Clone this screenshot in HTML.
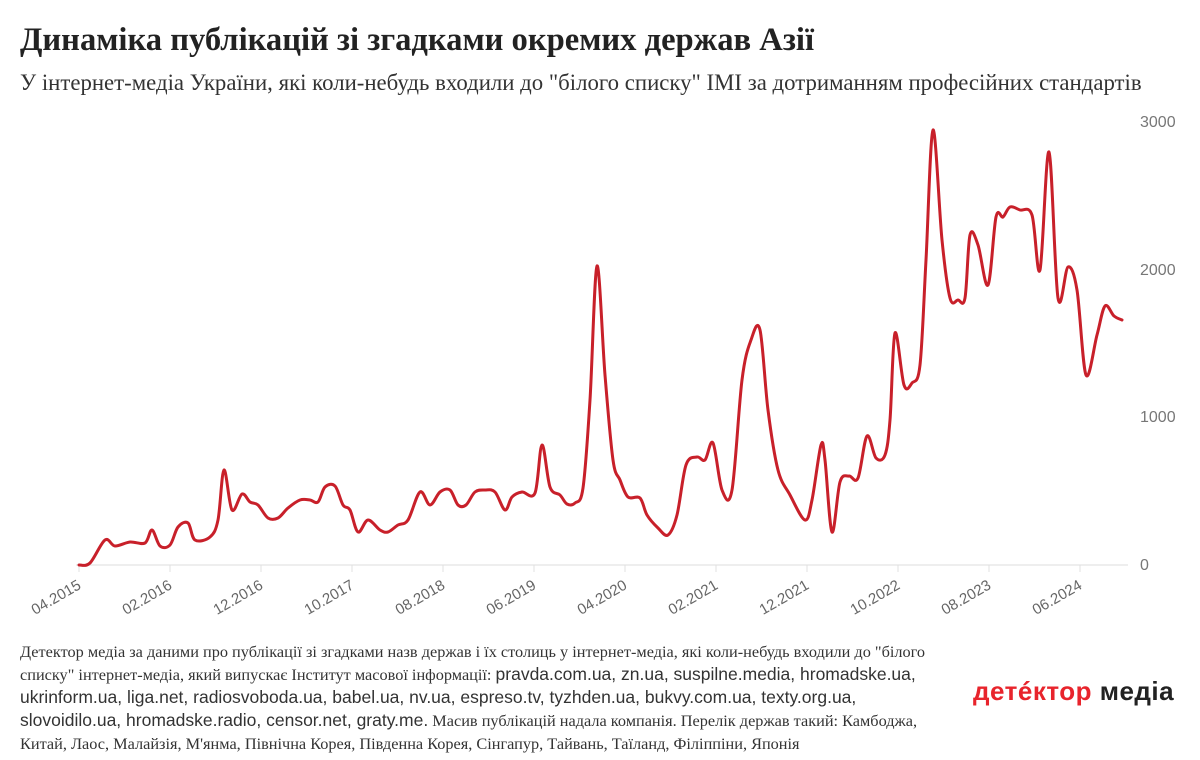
<!DOCTYPE html>
<html><head><meta charset="utf-8"><style>
body{margin:0;width:1200px;height:760px;background:#fff;overflow:hidden;font-family:"Liberation Serif",serif;color:#222}
h1{position:absolute;left:20px;top:22px;margin:0;font-size:32.6px;font-weight:bold;color:#222;white-space:nowrap}
.sub{position:absolute;left:20px;top:70px;font-size:22.8px;color:#333;white-space:nowrap}
.foot{position:absolute;left:20px;top:640px;font-size:16.3px;line-height:23px;color:#333;white-space:nowrap}
.foot span{font-size:17.5px;font-family:"Liberation Sans",sans-serif}
.logo{position:absolute;left:973px;top:676px;font-family:"Liberation Sans",sans-serif;font-size:26px;font-weight:bold;letter-spacing:0.5px}
svg{position:absolute;left:0;top:0}
</style></head><body>
<h1>Динаміка публікацій зі згадками окремих держав Азії</h1>
<div class="sub">У інтернет-медіа України, які коли-небудь входили до "білого списку" IMI за дотриманням професійних стандартів</div>
<svg width="1200" height="640" id="s">
<g stroke="#e8e8e8" stroke-width="1.5">
<line x1="76" y1="565" x2="1128" y2="565"/>
</g>
<g font-family="Liberation Sans,sans-serif" font-size="16" fill="#777" text-anchor="start">
<text x="1140" y="127">3000</text><text x="1140" y="275">2000</text><text x="1140" y="422">1000</text><text x="1140" y="570">0</text>
</g>
<g id="xt" font-family="Liberation Sans,sans-serif" font-size="15" fill="#666"></g>
<path id="ln" fill="none" stroke="#c8202a" stroke-width="3" stroke-linejoin="round" stroke-linecap="round"/>
</svg>
<div class="foot">Детектор медіа за даними про публікації зі згадками назв держав і їх столиць у інтернет-медіа, які коли-небудь входили до "білого<br>списку" інтернет-медіа, який випускає Інститут масової інформації: <span>pravda.com.ua, zn.ua, suspilne.media, hromadske.ua,</span><br><span>ukrinform.ua, liga.net, radiosvoboda.ua, babel.ua, nv.ua, espreso.tv, tyzhden.ua, bukvy.com.ua, texty.org.ua,</span><br><span>slovoidilo.ua, hromadske.radio, censor.net, graty.me.</span> Масив публікацій надала компанія. Перелік держав такий: Камбоджа,<br>Китай, Лаос, Малайзія, М'янма, Північна Корея, Південна Корея, Сінгапур, Тайвань, Таїланд, Філіппіни, Японія</div>
<div class="logo"><span style="color:#e8242c">детéктор</span> <span style="color:#222">медіа</span></div>
<script>
var labels=["04.2015","02.2016","12.2016","10.2017","08.2018","06.2019","04.2020","02.2021","12.2021","10.2022","08.2023","06.2024"];
var g=document.getElementById("xt"),h="";
labels.forEach(function(l,i){var x=79+i*91;h+='<line x1="'+x+'" y1="565" x2="'+x+'" y2="572" stroke="#e0e0e0"/><text transform="translate('+(x+3)+',588) rotate(-30)" text-anchor="end">'+l+'</text>';});
g.innerHTML=h;
var p=[79,565,90,563,105,540,115,546,130,542,145,543,152,530,160,546,170,545,178,527,188,523,195,540,210,537,218,520,224,470,232,510,242,494,250,502,258,505,268,518,278,518,288,508,300,500,310,500,318,502,325,487,335,486,343,505,350,510,358,532,368,520,380,530,388,532,398,525,408,520,420,492,430,505,440,492,450,490,458,505,466,505,475,492,485,490,495,492,505,510,512,497,522,492,535,493,542,445,550,487,560,495,567,504,575,503,583,488,590,400,597,266,605,375,613,460,620,480,628,497,640,498,647,515,658,528,668,535,677,515,686,465,697,457,705,460,713,443,722,490,732,490,742,380,751,340,760,330,768,410,778,470,790,495,805,520,812,500,821,445,825,460,832,532,840,482,849,476,858,478,867,436,876,458,885,455,890,420,895,333,904,385,912,383,920,365,926,260,933,130,942,240,950,298,958,300,965,298,970,235,978,245,988,285,996,217,1003,217,1010,207,1020,210,1032,215,1040,270,1049,152,1058,298,1068,267,1077,290,1086,375,1097,335,1105,306,1114,316,1122,320];
var pts=[];for(var i=0;i<p.length;i+=2)pts.push([p[i],p[i+1]]);
var d="M"+pts[0][0]+","+pts[0][1];
for(var i=0;i<pts.length-1;i++){var a=pts[Math.max(0,i-1)],b=pts[i],c=pts[i+1],e=pts[Math.min(pts.length-1,i+2)],t=6;
d+=" C"+(b[0]+(c[0]-a[0])/t)+","+(b[1]+(c[1]-a[1])/t)+" "+(c[0]-(e[0]-b[0])/t)+","+(c[1]-(e[1]-b[1])/t)+" "+c[0]+","+c[1];}
document.getElementById("ln").setAttribute("d",d);
</script>
</body></html>
